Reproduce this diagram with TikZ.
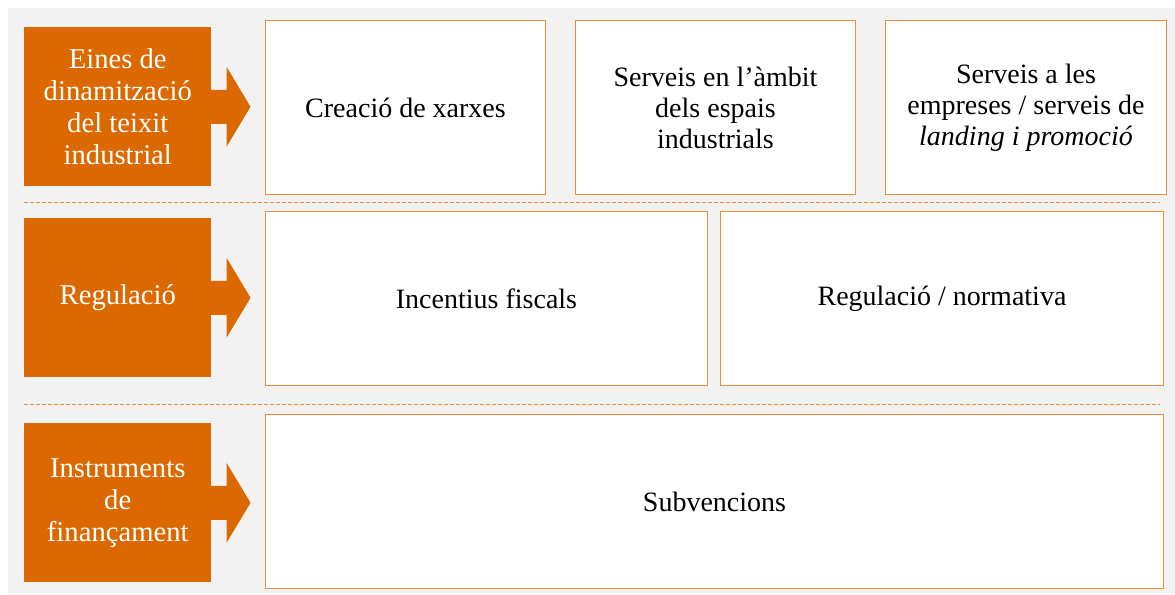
\documentclass[tikz,border=0pt]{standalone}
\usepackage{fontspec}
\setmainfont{Liberation Serif}
\usetikzlibrary{positioning}
\definecolor{pwcorange}{HTML}{DC6900}
\definecolor{boxline}{HTML}{EB8C3C}
\definecolor{panelgray}{HTML}{F2F2F2}
\begin{document}
\begin{tikzpicture}[x=0.75pt,y=-0.75pt,
        cat/.style={fill=pwcorange,text=white,minimum width=140.25pt,minimum height=119.25pt,
            align=center,anchor=north west,inner sep=0pt,font=\fontsize{21.5}{24}\selectfont},
        item/.style={draw=boxline,fill=white,line width=0.75pt,minimum height=130.5pt,
            align=center,inner sep=0pt,font=\fontsize{21}{23.25}\selectfont},
        sep/.style={draw=boxline,line width=0.75pt,dash pattern=on 3pt off 1.5pt}]
        \useasboundingbox (0,0) rectangle (1175,594);
        %% Panel
        \fill[panelgray] (8,8) rectangle (1175,594);
        %% Categories
        \node[cat] (eines) at (24,27) {Eines de\\dinamització\\del teixit\\industrial};
        \node[cat] (regul) at (24,218) {Regulació};
        \node[cat] (instr) at (24,423) {Instruments\\de\\finançament};
        \foreach \c in {eines,regul,instr}
            \fill[pwcorange] (\c.east) ++(-1,-17) -- ++(16,0) -- ++(0,-23) -- ++(24,40)
                -- ++(-24,40) -- ++(0,-23) -- ++(-16,0) -- cycle;
        %% Row 1
        \node[item,minimum width=210pt,anchor=north west] (xarxes) at (265,20) {Creació de xarxes};
        \node[item,minimum width=210pt,right=21.75pt of xarxes] (espais) {Serveis en l’àmbit\\dels espais\\industrials};
        \node[item,minimum width=210.75pt,right=21.75pt of espais] (empreses) {Serveis a les\\empreses / serveis de\\\textit{landing i promoció}};
        %% Row 2
        \node[item,minimum width=331.5pt,anchor=north west] (fiscals) at (265,211) {Incentius fiscals};
        \node[item,minimum width=332.25pt,right=9pt of fiscals] (normativa) {Regulació / normativa};
        %% Row 3
        \node[item,minimum width=673.5pt,anchor=north west] (subv) at (265,414) {Subvencions};
        %% Separators
        \foreach \y in {202,404}
            \draw[sep] (24,\y) -- (1160,\y);
    \end{tikzpicture}
\end{document}
